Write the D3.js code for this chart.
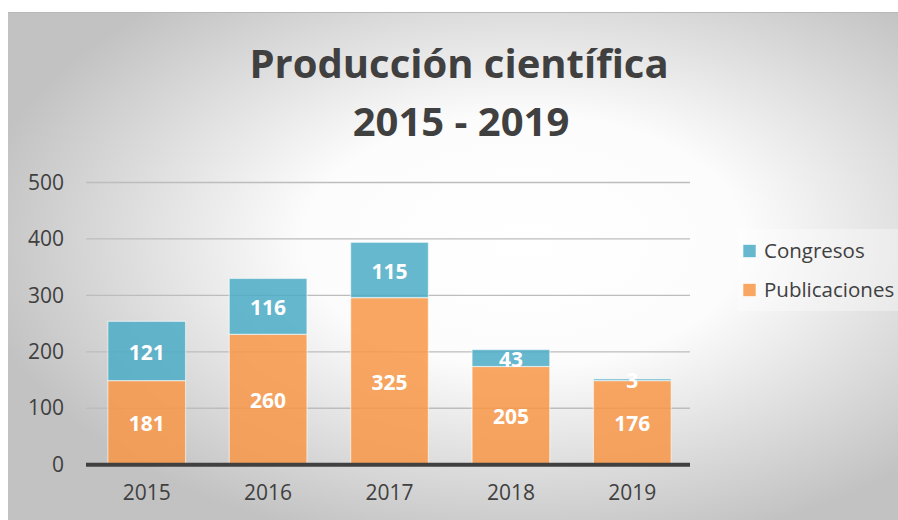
<!DOCTYPE html>
<html>
<head>
<meta charset="utf-8">
<script src="https://cdn.jsdelivr.net/npm/d3@7"></script>
<style>
  body { margin: 0; background: #fff; }
  svg { display: block; font-family: "Open Sans", sans-serif; }
</style>
</head>
<body>
<svg width="898" height="520"></svg>
<script>
// años
const years = ['2015', '2016', '2017', '2018', '2019'];
// valores que aparecen escritos en las barras
const publicaciones = [181, 260, 325, 205, 176];
const congresos = [121, 116, 115, 43, 3];
// altura real de cada tramo tal como se ve en el gráfico
const publicacionesAltura = [149, 231, 296, 174, 149];
const congresosAltura = [105, 99, 98, 30, 3];
const yTicks = [0, 100, 200, 300, 400, 500];
const series = ['Congresos', 'Publicaciones'];

let svg = d3.select('svg');
let margin = { top: 182.5, bottom: 55.3, left: 86, right: 208 };
let width = +svg.attr('width');
let height = +svg.attr('height');

// fondo con degradado radial
let defs = svg.append('defs');
let grad = defs.append('radialGradient')
  .attr('id', 'bg')
  .attr('cx', '58%').attr('cy', '45%').attr('r', '62%');
grad.append('stop').attr('offset', '0%').attr('stop-color', '#ffffff');
grad.append('stop').attr('offset', '40%').attr('stop-color', '#fcfcfc');
grad.append('stop').attr('offset', '100%').attr('stop-color', '#c2c2c2');

svg.append('rect')
  .attr('x', 8).attr('y', 12)
  .attr('width', width - 8).attr('height', height - 12)
  .attr('fill', 'url(#bg)');
svg.append('line')
  .attr('x1', 8).attr('x2', width).attr('y1', 12.5).attr('y2', 12.5)
  .attr('stroke', '#b8b8b8');

let x = d3.scaleBand()
  .domain(years)
  .range([margin.left, width - margin.right + 3])
  .paddingInner(0.36)
  .paddingOuter(0.18);
let y = d3.scaleLinear()
  .domain([0, 500])
  .range([height - margin.bottom, margin.top]);

// título
let title = svg.append('g')
  .attr('fill', '#404040')
  .attr('font-weight', 'bold')
  .attr('font-size', 40)
  .attr('text-anchor', 'middle');
title.append('text').attr('x', 459).attr('y', 78).text('Producción científica');
title.append('text').attr('x', 461).attr('y', 136).text('2015 - 2019');

// rejilla
svg.append('g')
  .selectAll('line')
  .data(yTicks.slice(1))
  .join('line')
  .attr('x1', margin.left).attr('x2', width - margin.right)
  .attr('y1', d => y(d)).attr('y2', d => y(d))
  .attr('stroke', '#bdbdbd')
  .attr('stroke-width', 1.3);

// eje y
let gy = svg.append('g')
  .attr('transform', `translate(${margin.left - 22},0)`)
  .call(d3.axisLeft(y).tickValues(yTicks).tickSize(0).tickPadding(0));
gy.select('.domain').remove();
gy.selectAll('text')
  .attr('font-family', '"Open Sans", sans-serif')
  .attr('font-size', 21)
  .attr('fill', '#404040');

// barras apiladas
let bars = svg.append('g');
bars.selectAll('rect.pub')
  .data(years)
  .join('rect')
  .attr('class', 'pub')
  .attr('x', d => x(d))
  .attr('width', x.bandwidth())
  .attr('y', (d, i) => y(publicacionesAltura[i]))
  .attr('height', (d, i) => y(0) - y(publicacionesAltura[i]))
  .attr('fill', '#f79646')
  .attr('fill-opacity', 0.85)
  .attr('stroke', 'rgba(255,255,255,0.55)')
  .attr('stroke-width', 1.2);
bars.selectAll('rect.cong')
  .data(years)
  .join('rect')
  .attr('class', 'cong')
  .attr('x', d => x(d))
  .attr('width', x.bandwidth())
  .attr('y', (d, i) => y(publicacionesAltura[i] + congresosAltura[i]))
  .attr('height', (d, i) => y(publicacionesAltura[i]) - y(publicacionesAltura[i] + congresosAltura[i]))
  .attr('fill', '#4bacc6')
  .attr('fill-opacity', 0.85)
  .attr('stroke', 'rgba(255,255,255,0.55)')
  .attr('stroke-width', 1.2);

// etiquetas de valores
let labels = svg.append('g')
  .attr('fill', '#ffffff')
  .attr('font-weight', 'bold')
  .attr('font-size', 21)
  .attr('text-anchor', 'middle');
labels.selectAll('text.pub')
  .data(years)
  .join('text')
  .attr('class', 'pub')
  .attr('x', d => x(d) + x.bandwidth() / 2)
  .attr('y', (d, i) => (y(0) + y(publicacionesAltura[i])) / 2 + 1)
  .attr('dy', '0.36em')
  .text((d, i) => publicaciones[i]);
labels.selectAll('text.cong')
  .data(years)
  .join('text')
  .attr('class', 'cong')
  .attr('x', d => x(d) + x.bandwidth() / 2)
  .attr('y', (d, i) => (y(publicacionesAltura[i]) + y(publicacionesAltura[i] + congresosAltura[i])) / 2 + 1)
  .attr('dy', '0.36em')
  .text((d, i) => congresos[i]);

// eje x
let gx = svg.append('g')
  .attr('transform', `translate(0,${y(0)})`)
  .call(d3.axisBottom(x).tickSize(0).tickPadding(20));
gx.select('.domain')
  .attr('d', `M${margin.left},0H${width - margin.right}`)
  .attr('stroke', '#404040')
  .attr('stroke-width', 4);
gx.selectAll('text')
  .attr('font-family', '"Open Sans", sans-serif')
  .attr('font-size', 21)
  .attr('fill', '#404040');

// leyenda
svg.append('rect')
  .attr('x', 738).attr('y', 229).attr('width', 160).attr('height', 82)
  .attr('fill', '#ffffff').attr('fill-opacity', 0.35);
let colors = { 'Congresos': '#4bacc6', 'Publicaciones': '#f79646' };
let legend = svg.append('g')
  .selectAll('g')
  .data(series)
  .join('g')
  .attr('transform', (d, i) => `translate(743,${251 + i * 39})`);
legend.append('rect')
  .attr('x', 0).attr('y', -6.5)
  .attr('width', 13).attr('height', 13)
  .attr('fill', d => colors[d])
  .attr('fill-opacity', 0.85)
  .attr('stroke', 'rgba(255,255,255,0.6)');
legend.append('text')
  .attr('x', 21)
  .attr('dy', '0.36em')
  .attr('font-size', 20.5)
  .attr('fill', '#404040')
  .text(d => d);
</script>
</body>
</html>
